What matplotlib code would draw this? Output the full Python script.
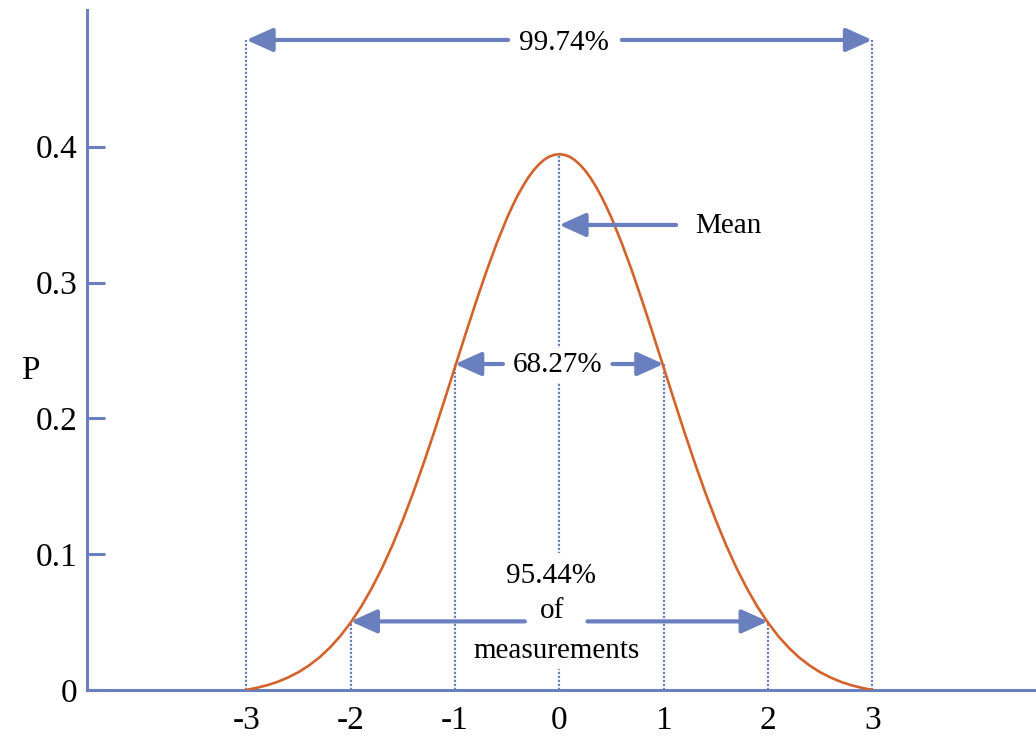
import matplotlib
matplotlib.use('Agg')
import matplotlib.pyplot as plt

BLUE   = "#6a80be"
ORANGE = "#d3632b"

plt.rcParams.update({
    "font.family": ["Liberation Serif", "DejaVu Serif"],
    "axes.unicode_minus": False,
})

# normal curve, values (touches the axis at +-3)
x_vals = [-3.0, -2.9, -2.8, -2.7, -2.6, -2.5, -2.4, -2.3, -2.2, -2.1, -2.0,
          -1.9, -1.8, -1.7, -1.6, -1.5, -1.4, -1.3, -1.2, -1.1, -1.0,
          -0.9, -0.8, -0.7, -0.6, -0.5, -0.45, -0.4, -0.35, -0.3, -0.25,
          -0.2, -0.15, -0.1, -0.05, 0.0,
          0.05, 0.1, 0.15, 0.2, 0.25, 0.3, 0.35, 0.4, 0.45, 0.5,
          0.6, 0.7, 0.8, 0.9, 1.0, 1.1, 1.2, 1.3, 1.4, 1.5, 1.6, 1.7, 1.8,
          1.9, 2.0, 2.1, 2.2, 2.3, 2.4, 2.5, 2.6, 2.7, 2.8, 2.9, 3.0]
p_vals = [0.0000, 0.0016, 0.0035, 0.0060, 0.0092, 0.0131, 0.0180, 0.0239,
          0.0311, 0.0396, 0.0496, 0.0612, 0.0746, 0.0896, 0.1065, 0.1251,
          0.1453, 0.1670, 0.1898, 0.2135, 0.2376, 0.2617, 0.2853, 0.3079,
          0.3288, 0.3477, 0.3561, 0.3639, 0.3708, 0.3770, 0.3823, 0.3866,
          0.3901, 0.3926, 0.3940, 0.3945,
          0.3940, 0.3926, 0.3901, 0.3866, 0.3823, 0.3770, 0.3708, 0.3639,
          0.3561, 0.3477, 0.3288, 0.3079, 0.2853, 0.2617, 0.2376, 0.2135,
          0.1898, 0.1670, 0.1453, 0.1251, 0.1065, 0.0896, 0.0746, 0.0612,
          0.0496, 0.0396, 0.0311, 0.0239, 0.0180, 0.0131, 0.0092, 0.0060,
          0.0035, 0.0016, 0.0000]

# dotted guide lines (x position, top)
guide_x   = [-3, -2, -1, 0, 1, 2, 3]
guide_top = [0.4786, 0.0505, 0.240, 0.3945, 0.240, 0.0505, 0.4786]

x_ticks  = [-3, -2, -1, 0, 1, 2, 3]
x_labels = ["-3", "-2", "-1", "0", "1", "2", "3"]
y_ticks  = [0, 0.1, 0.2, 0.3, 0.4]
y_labels = ["0", "0.1", "0.2", "0.3", "0.4"]

# range arrows: level, left end, right end, left gap, right gap
range_y     = [0.4786, 0.240, 0.0505]
range_left  = [-3, -1, -2]
range_right = [3, 1, 2]
gap_left    = [-0.49, -0.54, -0.33]
gap_right   = [0.60, 0.51, 0.27]

fig = plt.figure(figsize=(10.36, 7.37), dpi=100)
ax = fig.add_axes([0.0837, 0.0638, 0.9163, 0.9227])
ax.set_xlim(-4.53, 4.57)
ax.set_ylim(0, 0.5007)

for s in ["top", "right"]:
    ax.spines[s].set_visible(False)
for s in ["left", "bottom"]:
    ax.spines[s].set_color(BLUE)
    ax.spines[s].set_linewidth(2.2)

ax.vlines(guide_x, 0, guide_top, colors=BLUE, linewidth=1.6,
          linestyles=[(0, (1, 0.8))], zorder=1)

ax.plot(x_vals, p_vals, color=ORANGE, linewidth=1.9, zorder=3)

arrow_kw = dict(arrowstyle="-|>,head_length=0.8,head_width=0.36",
                color=BLUE, lw=3, shrinkA=0, shrinkB=0, mutation_scale=20)
for y, l, r, gl, gr in zip(range_y, range_left, range_right, gap_left, gap_right):
    ax.annotate("", xy=(l, y), xytext=(gl, y), arrowprops=arrow_kw, zorder=4)
    ax.annotate("", xy=(r, y), xytext=(gr, y), arrowprops=arrow_kw, zorder=4)

# mean arrow
ax.annotate("", xy=(0, 0.3424), xytext=(1.12, 0.3424), arrowprops=arrow_kw, zorder=4)
ax.text(1.30, 0.3365, "Mean", fontsize=21, ha="left", va="baseline")

ax.text(0.04, 0.4713, "99.74%", fontsize=21, ha="center", va="baseline")
ax.text(-0.015, 0.2340, "68.27%", fontsize=21, ha="center", va="baseline",
        bbox=dict(facecolor="white", edgecolor="none", pad=3), zorder=5)
ax.text(-0.08, 0.0788, "95.44%", fontsize=21, ha="center", va="baseline",
        bbox=dict(facecolor="white", edgecolor="none", pad=7), zorder=5)
ax.text(-0.067, 0.0530, "of", fontsize=21, ha="center", va="baseline",
        bbox=dict(facecolor="white", edgecolor="none", pad=9), zorder=5)
ax.text(-0.03, 0.0236, "measurements", fontsize=21, ha="center", va="baseline",
        bbox=dict(facecolor="white", edgecolor="none", pad=4), zorder=5)

ax.set_xticks(x_ticks)
ax.set_xticklabels(x_labels)
ax.set_yticks(y_ticks)
ax.set_yticklabels(y_labels)
ax.tick_params(axis="x", length=0, pad=11, labelsize=24)
ax.tick_params(axis="y", direction="in", length=13, width=2.2, color=BLUE,
               pad=6.5, labelsize=24)

ax.set_ylabel("P", rotation=0, fontsize=24, va="center", ha="center")
ax.yaxis.set_label_coords(-0.0597, 0.47)

fig.savefig("out.png", dpi=100)
